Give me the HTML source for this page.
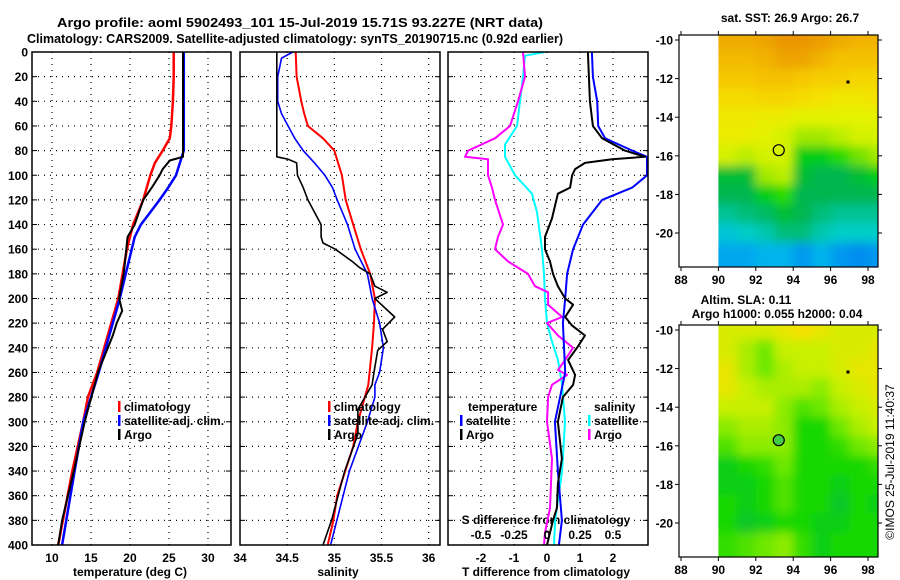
<!DOCTYPE html>
<html><head><meta charset="utf-8">
<style>
html,body{margin:0;padding:0;background:#fff;}
svg{display:block;font-family:"Liberation Sans",sans-serif;font-weight:bold;}
</style></head>
<body>
<svg id="chart" width="900" height="580" viewBox="0 0 900 580" xmlns="http://www.w3.org/2000/svg">
<text x="57" y="27" font-size="13" textLength="486" lengthAdjust="spacingAndGlyphs">Argo profile: aoml 5902493_101 15-Jul-2019 15.71S 93.227E (NRT data)</text>
<text x="27" y="43" font-size="13" textLength="536" lengthAdjust="spacingAndGlyphs">Climatology: CARS2009. Satellite-adjusted climatology: synTS_20190715.nc (0.92d earlier)</text>
<text x="790" y="22" font-size="12" text-anchor="middle">sat. SST: 26.9 Argo: 26.7</text>
<text x="746" y="304" font-size="12" text-anchor="middle">Altim. SLA: 0.11</text>
<text x="777" y="318" font-size="12" text-anchor="middle">Argo h1000: 0.055 h2000: 0.04</text>
<text transform="translate(894,462) rotate(-90)" font-size="12" font-weight="normal" text-anchor="middle">©IMOS 25-Jul-2019 11:40:37</text>
<text x="130" y="576" font-size="12" text-anchor="middle">temperature (deg C)</text>
<text x="338" y="576" font-size="12" text-anchor="middle">salinity</text>
<text x="546" y="576" font-size="12" text-anchor="middle">T difference from climatology</text>
<text x="546" y="524" font-size="12" text-anchor="middle">S difference from climatology</text>
</svg>
<script>
// ---------- data ----------
const depthTicks = [0,20,40,60,80,100,120,140,160,180,200,220,240,260,280,300,320,340,360,380,400];
// temperature panel
const tClimDepth = [0,20,40,60,70,80,90,100,120,140,160,200,260,280,300,340,400];
const tClim      = [25.6,25.6,25.5,25.3,25.1,24.2,23.2,22.6,21.7,20.4,19.6,18.5,15.8,14.6,14.0,12.6,10.8];
const tSatDepth  = [0,20,40,60,80,90,100,110,120,130,140,150,200,260,300,340,400];
const tSat       = [26.9,26.9,26.9,26.9,26.9,26.4,25.9,24.9,23.8,22.6,21.4,20.6,18.7,16.0,14.0,12.9,11.3];
const tArgoDepth = [0,20,40,60,85,88,95,100,110,120,140,150,180,200,210,220,230,260,300,340,380,400];
const tArgo      = [26.8,26.8,26.8,26.8,26.8,25.1,24.2,23.8,22.8,21.7,20.6,19.7,19.2,18.6,19.0,18.3,17.8,15.9,14.2,12.8,11.3,10.8];
// salinity panel
const sClimDepth = [0,20,40,50,60,70,80,100,120,140,160,180,200,220,240,270,300,320,360,380,400];
const sClim      = [34.59,34.60,34.65,34.68,34.72,34.88,35.0,35.08,35.12,35.20,35.28,35.38,35.43,35.42,35.40,35.36,35.25,35.20,35.03,34.99,34.93];
const sSatDepth  = [0,5,20,40,50,60,70,80,90,100,110,120,140,160,180,200,220,240,260,270,280,300,340,400];
const sSat       = [34.56,34.44,34.40,34.40,34.44,34.51,34.58,34.67,34.79,34.90,34.98,35.03,35.14,35.22,35.35,35.40,35.48,35.52,35.48,35.43,35.43,35.35,35.16,34.96];
const sArgoDepth = [0,85,87,90,100,110,120,130,140,150,155,160,170,175,180,190,195,200,205,215,225,235,242,260,270,290,310,340,380,400];
const sArgo      = [34.39,34.39,34.51,34.60,34.61,34.67,34.72,34.79,34.86,34.86,34.88,35.01,35.19,35.27,35.38,35.43,35.56,35.43,35.50,35.64,35.51,35.56,35.46,35.42,35.40,35.25,35.25,35.11,34.97,34.88];
// difference panel (T in deg C, S in psu)
const dTSatDepth = [0,20,40,60,70,80,85,100,110,120,140,160,180,200,220,260,300,340,380,400];
const dTSat      = [1.36,1.39,1.52,1.55,1.76,2.58,3.03,3.03,2.58,1.67,1.09,0.79,0.61,0.55,0.48,0.55,0.24,0.33,0.45,0.36];
const dTArgoDepth = [0,40,60,70,80,85,87,90,95,100,110,115,125,135,150,160,170,180,190,200,205,215,222,230,240,250,262,270,280,300,330,350,370,380,390,400];
const dTArgo      = [1.24,1.30,1.39,1.67,2.36,2.97,1.97,1.15,0.85,0.76,0.70,0.33,0.24,0.15,-0.06,-0.06,0.09,0.18,0.33,0.55,0.79,0.55,0.76,1.15,0.91,0.64,0.85,0.79,0.48,0.33,0.45,0.33,0.30,0.18,0.09,0.0];
const dSSatDepth = [0,3,20,60,75,85,100,115,130,160,180,200,220,235,250,270,280,300,340,380,400];
const dSSat      = [-0.015,-0.167,-0.182,-0.227,-0.318,-0.318,-0.242,-0.114,-0.076,-0.038,-0.023,-0.015,0.0,0.038,0.083,0.114,0.121,0.136,0.114,0.061,0.053];
const dSArgoDepth = [0,20,40,60,70,80,85,87,100,110,120,140,150,160,170,180,190,195,205,215,220,230,240,250,258,262,270,280,300,330,370,390,400];
const dSArgo      = [-0.182,-0.167,-0.220,-0.280,-0.394,-0.598,-0.621,-0.447,-0.447,-0.417,-0.394,-0.333,-0.371,-0.394,-0.295,-0.144,-0.091,0.008,0.008,0.114,0.0,0.083,0.197,0.136,0.083,0.152,0.038,0.008,0.0,0.038,0.023,-0.015,-0.023];
// maps
const mapLons = [90,91,92,93,94,95,96,97,98];       // cell west edges
const mapLats = [-9.75,-10.5,-11.5,-12.5,-13.5,-14.5,-15.5,-16.5,-17.5,-18.5,-19.5,-20.5,-21.5]; // row top edges
const sstGrid = [
 [27.9,27.9,28.0,28.2,28.2,28.1,27.9,27.8,27.8],
 [27.7,27.7,27.8,28.0,28.0,27.8,27.6,27.6,27.6],
 [27.5,27.5,27.6,27.6,27.5,27.4,27.4,27.3,27.3],
 [27.2,27.2,27.3,27.3,27.2,27.1,27.0,27.0,27.1],
 [27.0,27.0,26.9,26.9,26.8,26.8,26.8,26.8,26.8],
 [26.9,26.9,26.8,26.7,26.5,26.5,26.6,26.7,26.7],
 [26.7,26.6,26.7,26.7,26.2,26.2,26.3,26.4,26.5],
 [26.1,26.1,26.5,26.6,26.1,26.0,26.0,26.1,26.2],
 [26.0,26.0,26.2,26.3,26.0,26.0,26.0,26.0,26.0],
 [25.7,25.8,25.9,26.1,26.0,25.8,25.7,25.7,25.7],
 [25.4,25.5,25.6,25.8,25.8,25.6,25.5,25.5,25.5],
 [25.1,25.1,25.2,25.2,25.0,25.2,25.0,24.9,25.0]
];
const slaGrid = [
 [.13,.13,.13,.14,.15,.14,.13,.13,.13],
 [.13,.11,.09,.12,.12,.12,.13,.13,.14],
 [.14,.11,.09,.11,.12,.12,.13,.14,.14],
 [.14,.12,.11,.11,.11,.10,.12,.13,.14],
 [.12,.12,.12,.10,.08,.09,.11,.12,.13],
 [.10,.11,.11,.10,.06,.06,.09,.11,.12],
 [.08,.10,.10,.10,.06,.06,.07,.09,.10],
 [.05,.06,.07,.09,.06,.06,.06,.06,.07],
 [.05,.05,.06,.08,.06,.06,.05,.06,.06],
 [.06,.05,.06,.08,.06,.06,.04,.06,.05],
 [.06,.04,.05,.06,.06,.05,.05,.06,.06],
 [.07,.08,.09,.10,.07,.05,.06,.06,.06]
];
const floatLon = 93.227, floatLat = -15.71;
const mapXTicks = [88,90,92,94,96,98];
const mapYTicks = [-10,-12,-14,-16,-18,-20];

// ---------- drawing ----------
const NS = "http://www.w3.org/2000/svg";
const svg = document.getElementById('chart');
function mk(tag, attrs, parent){
  const e = document.createElementNS(NS, tag);
  for (const k in attrs) e.setAttribute(k, attrs[k]);
  (parent||svg).appendChild(e);
  return e;
}
const Y0 = 52, Y1 = 545;
const yDepth = d => Y0 + d*(Y1-Y0)/400;
const panels = [
  {name:'temperature', x0:32, x1:231, v0:7.44, v1:32.95, grid:[10,15,20,25,30], labels:[10,15,20,25,30]},
  {name:'salinity', x0:240, x1:440, v0:34.0, v1:36.12, grid:[34.5,35,35.5,36], labels:[34,34.5,35,35.5,36]},
  {name:'difference', x0:448, x1:648, v0:-3.0, v1:3.06, grid:[-2,-1,0,1,2], labels:[-2,-1,0,1,2]}
];
panels.forEach(p => { p.sx = v => p.x0 + (v-p.v0)*(p.x1-p.x0)/(p.v1-p.v0); });

panels.forEach((p,i) => {
  const g = mk('g', {});
  
  
  depthTicks.forEach(d => {
    const y = yDepth(d);
    if (d>0 && d<400) {
      const l = mk('line', {x1:p.x0, x2:p.x1, y1:y, y2:y, stroke:'#000', 'stroke-width':1.2, 'stroke-dasharray':'1 5'}, g);
      
      
    }
    mk('line', {x1:p.x0, x2:p.x0+5, y1:y, y2:y, stroke:'#000'}, g);
    mk('line', {x1:p.x1-5, x2:p.x1, y1:y, y2:y, stroke:'#000'}, g);
    if (i===0) {
      const t = mk('text', {x:28, y:y+4.5, 'font-size':12, 'text-anchor':'end'}, g);
      
      
      t.textContent = d;
    }
  });
  p.grid.forEach(v => {
    const x = p.sx(v);
    const l = mk('line', {x1:x, x2:x, y1:Y0, y2:Y1, stroke:'#000', 'stroke-width':1.2, 'stroke-dasharray':'1 5'}, g);
    
    
  });
  p.labels.forEach(v => {
    const t = mk('text', {x:p.sx(v), y:562, 'font-size':12, 'text-anchor':'middle'}, g);
    
    
    t.textContent = v;
  });
  const cp = mk('clipPath', {id:'clip'+i});
  mk('rect', {x:p.x0, y:Y0, width:p.x1-p.x0, height:Y1-Y0}, cp);
  p.clip = 'url(#clip'+i+')';
});

function drawLine(p, depths, vals, color, w, name, scale){
  const pts = depths.map((d,k) => p.sx(vals[k]*(scale||1)).toFixed(1)+','+yDepth(d).toFixed(1)).join(' ');
  const l = mk('polyline', {points:pts, fill:'none', stroke:color, 'stroke-width':w, 'stroke-linejoin':'round', 'clip-path':p.clip});
  
  
}
drawLine(panels[0], tClimDepth, tClim, '#f00', 2.5, 'temperature-climatology-line');
drawLine(panels[0], tSatDepth, tSat, '#00f', 2.5, 'temperature-satellite-line');
drawLine(panels[0], tArgoDepth, tArgo, '#000', 2, 'temperature-argo-line');
drawLine(panels[1], sClimDepth, sClim, '#f00', 2, 'salinity-climatology-line');
drawLine(panels[1], sSatDepth, sSat, '#00f', 1.6, 'salinity-satellite-line');
drawLine(panels[1], sArgoDepth, sArgo, '#000', 1.6, 'salinity-argo-line');
drawLine(panels[2], dSSatDepth, dSSat, '#0ff', 2, 'salinity-diff-satellite-line', 4);
drawLine(panels[2], dSArgoDepth, dSArgo, '#f0f', 2, 'salinity-diff-argo-line', 4);
drawLine(panels[2], dTSatDepth, dTSat, '#00f', 2, 'temperature-diff-satellite-line');
drawLine(panels[2], dTArgoDepth, dTArgo, '#000', 2, 'temperature-diff-argo-line');

panels.forEach(p => {
  const r = mk('rect', {x:p.x0, y:Y0, width:p.x1-p.x0, height:Y1-Y0, fill:'none', stroke:'#000', 'stroke-width':1.5});
  
  
});

// legends
function legend(x, y, color, label, name){
  const g = mk('g', {});
  
  
  mk('rect', {x:x, y:y-10, width:2.5, height:11, fill:color}, g);
  const t = mk('text', {x:x+6, y:y, 'font-size':12}, g);
  t.textContent = label;
}
legend(118, 411, '#f00', 'climatology', 'legend-temp-climatology');
legend(118, 425, '#00f', 'satellite-adj. clim.', 'legend-temp-satellite');
legend(118, 439, '#000', 'Argo', 'legend-temp-argo');
legend(328, 411, '#f00', 'climatology', 'legend-sal-climatology');
legend(328, 425, '#00f', 'satellite-adj. clim.', 'legend-sal-satellite');
legend(328, 439, '#000', 'Argo', 'legend-sal-argo');
(function(){
  const t1 = mk('text', {x:468, y:411, 'font-size':12});
  
  
  t1.textContent = 'temperature';
  const t2 = mk('text', {x:594, y:411, 'font-size':12});
  
  
  t2.textContent = 'salinity';
})();
legend(460, 425, '#00f', 'satellite', 'legend-tdiff-satellite');
legend(460, 439, '#000', 'Argo', 'legend-tdiff-argo');
legend(588, 425, '#0ff', 'satellite', 'legend-sdiff-satellite');
legend(588, 439, '#f0f', 'Argo', 'legend-sdiff-argo');
const sdiffTicks = [-0.5,-0.25,0,0.25,0.5];
sdiffTicks.forEach(v => {
  const t = mk('text', {x:panels[2].sx(v*4), y:539, 'font-size':12, 'text-anchor':'middle'});
  
  
  t.textContent = v;
});

// maps
function rgb(c){ return 'rgb('+c.join(',')+')'; }
function lerpColor(stops, v){
  if (v <= stops[0][0]) return rgb(stops[0][1]);
  for (let i=1;i<stops.length;i++){
    if (v <= stops[i][0]){
      const a = stops[i-1], b = stops[i], f = (v-a[0])/(b[0]-a[0]);
      return rgb(a[1].map((x,k)=>Math.round(x+(b[1][k]-x)*f)));
    }
  }
  return rgb(stops[stops.length-1][1]);
}
const sstStops = [[24.9,[0,140,240]],[25.2,[0,180,235]],[25.5,[0,205,200]],[25.8,[0,190,120]],[26.05,[0,180,70]],[26.25,[0,215,0]],[26.45,[150,230,0]],[26.75,[225,245,0]],[27.1,[245,225,0]],[27.5,[245,200,0]],[28.2,[235,150,0]]];
const slaStops = [[0.03,[0,190,60]],[0.06,[20,215,0]],[0.09,[110,232,0]],[0.12,[200,240,0]],[0.15,[245,225,0]]];
function drawMap(top, grid, stops, name, filled){
  const x0 = 679, x1 = 878, y1 = top + 232;
  const lx = lon => 681 + (lon-88)*18.7;
  const ly = lat => top + 5 + (-10-lat)*19.3;
  const g = mk('g', {});
  
  
  const cid = name+'-clip';
  const cp = mk('clipPath', {id:cid});
  mk('rect', {x:lx(90), y:top, width:x1-lx(90), height:y1-top}, cp);
  const fid = name+'-blur';
  const f = mk('filter', {id:fid, x:'-10%', y:'-10%', width:'120%', height:'120%'});
  mk('feGaussianBlur', {stdDeviation:5}, f);
  const cg = mk('g', {'clip-path':'url(#'+cid+')'}, g);
  const bg = mk('g', {filter:'url(#'+fid+')'}, cg);
  grid.forEach((row, r) => {
    row.forEach((v, c) => {
      const rx = lx(mapLons[c]) - (c===0?12:0);
      const ry = ly(mapLats[r]) - (r===0?12:0);
      const rw = 18.7 + (c===0?12:0) + (c===row.length-1?20:0);
      const rh = ly(mapLats[r+1]) - ly(mapLats[r]) + (r===0?12:0) + (r===grid.length-1?20:0);
      const cell = mk('rect', {x:rx, y:ry, width:rw+0.5, height:rh+0.5, fill:lerpColor(stops, v)}, bg);
      
      
    });
  });
  const fm = mk('circle', {cx:lx(floatLon), cy:ly(floatLat), r:5.5, fill:filled?'#4c4':'none', stroke:'#000', 'stroke-width':1.2}, g);
  
  
  mk('rect', {x:lx(96.85), y:ly(-12.1), width:3, height:3, fill:'#000'}, g);
  mk('rect', {x:x0, y:top, width:x1-x0, height:y1-top, fill:'none', stroke:'#000', 'stroke-width':1.2}, g);
  mapXTicks.forEach(v => {
    const x = lx(v);
    mk('line', {x1:x, x2:x, y1:y1, y2:y1+4, stroke:'#000'}, g);
    mk('line', {x1:x, x2:x, y1:top, y2:top-4, stroke:'#000'}, g);
    const t = mk('text', {x:x, y:y1+17, 'font-size':12, 'text-anchor':'middle'}, g);
    
    
    t.textContent = v;
  });
  mapYTicks.forEach(v => {
    const y = ly(v);
    mk('line', {x1:x0-4, x2:x0, y1:y, y2:y, stroke:'#000'}, g);
    mk('line', {x1:x1, x2:x1+4, y1:y, y2:y, stroke:'#000'}, g);
    const t = mk('text', {x:673, y:y+4.5, 'font-size':12, 'text-anchor':'end'}, g);
    
    
    t.textContent = v;
  });
}
drawMap(35, sstGrid, sstStops, 'sst-map', false);
drawMap(325, slaGrid, slaStops, 'sla-map', true);
</script>
</body></html>
